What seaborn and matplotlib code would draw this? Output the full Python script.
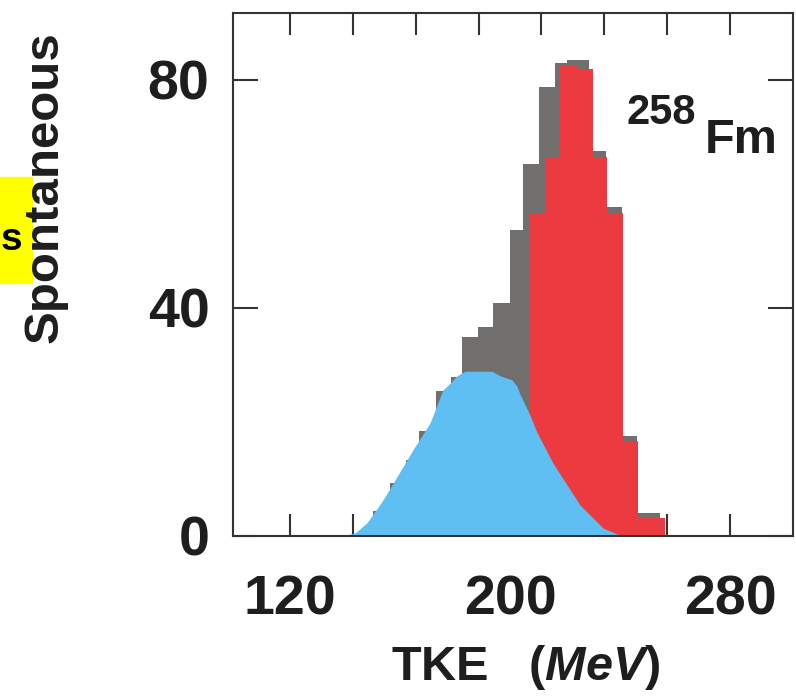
import matplotlib
matplotlib.use("Agg")
import matplotlib.pyplot as plt
import seaborn as sns
import pandas as pd
from matplotlib.patches import Rectangle
from matplotlib.ticker import FixedLocator

# ---------------- data ----------------
gray_edges = [150.2, 156.4, 162.2, 166.9, 173.1, 178.5, 182.5, 188.4, 193.8, 200.0,
              204.7, 210.5, 216.4, 220.7, 228.7, 234.9, 240.7, 246.2, 254.5]
gray_counts = [4.4, 9.3, 13.3, 18.4, 25.4, 27.9, 34.9, 36.7, 40.9,
               53.7, 65.3, 78.8, 83.0, 83.5, 67.5, 57.7, 17.5, 4.0]

red_edges = [206.9, 212.7, 217.8, 224.4, 230.2, 235.3, 241.1, 246.5, 256.4]
red_counts = [56.7, 66.5, 82.5, 81.9, 66.5, 56.7, 16.7, 3.2]

blue_tke = [138.2, 143.6, 148.0, 153.8, 158.9, 164.7, 170.9, 175.6, 178.2, 180.7, 183.6,
            193.5, 196.4, 200.7, 202.5, 203.6, 206.9, 209.8, 215.6, 225.5, 233.8, 240.7]
blue_yield = [0.0, 0.5, 2.3, 6.3, 10.4, 15.1, 19.8, 25.6, 26.8, 28.1, 28.9,
              28.9, 28.1, 27.4, 26.3, 24.9, 21.6, 18.2, 12.8, 5.4, 1.4, 0.0]

x_ticks = [120, 200, 280]
y_ticks = [0, 40, 80]
x_minor = [120 + k * 160 / 7 for k in range(8)]

xlabel = "TKE   ($\\mathit{MeV}$)"
ylabel = "Spontaneous"
nucleus_mass = "258"
nucleus_sym = "Fm"
side_fragment = "s"

# ---------------- style ----------------
sns.set_style("white")
family = ["Liberation Sans", "DejaVu Sans"]
plt.rcParams["font.family"] = family
plt.rcParams["mathtext.fontset"] = "custom"
plt.rcParams["mathtext.it"] = "Liberation Sans:italic:bold"
plt.rcParams["mathtext.rm"] = "Liberation Sans:bold"
plt.rcParams["mathtext.bf"] = "Liberation Sans:bold"

ink = "#1e1e1e"
gray = "#716F6D"
red = "#EB3A40"
blue = "#5FBFF2"

fig = plt.figure(figsize=(7.96, 6.96), dpi=100)
ax = fig.add_axes([233 / 796, 160 / 696, 560 / 796, 523 / 696])


def centers(edges):
    return [(a + b) / 2 for a, b in zip(edges[:-1], edges[1:])]


gray_df = pd.DataFrame({"tke": centers(gray_edges), "n": gray_counts})
red_df = pd.DataFrame({"tke": centers(red_edges), "n": red_counts})

sns.histplot(data=gray_df, x="tke", weights="n", bins=gray_edges, color=gray,
             alpha=1, linewidth=0, ax=ax)
sns.histplot(data=red_df, x="tke", weights="n", bins=red_edges, color=red,
             alpha=1, linewidth=0, ax=ax)
ax.fill_between(blue_tke, 0, blue_yield, color=blue, lw=0, zorder=3)

ax.set_xlim(99.3, 302.9)
ax.set_ylim(0, 91.75)
ax.set_xlabel("")
ax.set_ylabel("")
ax.set_axisbelow(True)

for s in ax.spines.values():
    s.set_visible(True)
    s.set_color("#333333")
    s.set_linewidth(1.5)
    s.set_zorder(4)

ax.set_xticks(x_ticks)
ax.set_xticklabels([str(v) for v in x_ticks])
ax.xaxis.set_minor_locator(FixedLocator(x_minor))
ax.xaxis.remove_overlapping_locs = False
ax.tick_params(axis="x", which="major", length=0, pad=28, labelsize=40, labelcolor=ink)
ax.tick_params(axis="x", which="minor", direction="in", length=16, width=1.5,
               top=True, bottom=True, color="#333333")
ax.set_yticks(y_ticks)
ax.set_yticklabels([str(v) for v in y_ticks])
ax.tick_params(axis="y", which="major", direction="in", length=18, width=1.5,
               left=True, right=True, pad=17, labelsize=40, labelcolor=ink,
               color="#333333")
for t in ax.get_xticklabels() + ax.get_yticklabels():
    t.set_fontweight("bold")

ax.text(0.703, 0.788, nucleus_mass, transform=ax.transAxes, fontsize=30,
        fontweight="bold", color=ink, ha="left", va="baseline")
ax.text(0.843, 0.732, nucleus_sym, transform=ax.transAxes, fontsize=35,
        fontweight="bold", color=ink, ha="left", va="baseline")

fig.text(526 / 796, 1 - 680 / 696, xlabel, ha="center", va="baseline",
         fontsize=35, fontweight="bold", color=ink)
fig.text(45 / 796, 1 - 343 / 696, ylabel, rotation=90, ha="center", va="bottom",
         fontsize=35.5, fontweight="bold", color=ink)

fig.add_artist(Rectangle((0, 1 - 283 / 696), 32 / 796, 106 / 696,
                         transform=fig.transFigure, color="#FFFF00", zorder=0))
fig.text(0.5 / 796, 1 - 250 / 696, side_fragment, ha="left", va="baseline",
         fontsize=28, fontweight="bold", color="black")

fig.savefig("out.png", dpi=100)
